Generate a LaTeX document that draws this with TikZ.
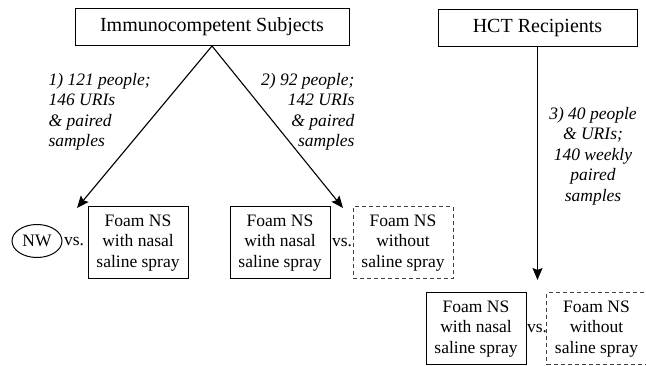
\documentclass[tikz,border=0pt]{standalone}
\usepackage{fontspec}
\setmainfont{Liberation Serif}
\usepackage{tikz}
\usetikzlibrary{shapes.geometric}
\usetikzlibrary{arrows.meta}
\tikzset{
every picture/.style={line width=1.1pt, >={Stealth[length=12pt,width=10pt,inset=2pt]},
                       x=1pt, y=-1pt, font=\fontsize{17.5}{20.5}\selectfont},
%%%%%%%%%%  Node styles
group/.style={draw, line width=1pt, minimum width=274pt, minimum height=37pt,
              inner sep=2pt, font=\fontsize{20}{24}\selectfont},
sample/.style={draw, line width=1pt, minimum width=100pt, minimum height=72pt,
               align=center, inner sep=1pt},
nospray/.style={sample, dash pattern=on 4pt off 3pt, draw=black!75},
swab/.style={ellipse, draw, line width=1pt, minimum width=50pt,
             minimum height=33pt, inner sep=0pt},
versus/.style={inner sep=0pt},
%%%% labels on the arrows
cohort/.style={font=\fontsize{17.5}{20.5}\selectfont\itshape, inner sep=0pt}
}

\begin{document}
\begin{tikzpicture}
\useasboundingbox (0,0) rectangle (646,366);
%%%%%%% top row
\node[group] (immuno) at (212,27) {Immunocompetent Subjects};
\node[group, minimum width=199pt] (hct) at (537.5,28) {HCT Recipients};
%%%%%%% comparisons
\node[swab] (nw) at (37,241) {NW};
\node[versus] (vsA) at (74,242) {vs.};
\node[sample] (sprayA) at (138,243) {Foam NS\\with nasal\\saline spray};
\node[sample] (sprayB) at (280,243) {Foam NS\\with nasal\\saline spray};
\node[versus] (vsB) at (342,243) {vs.};
\node[nospray] (plainB) at (403,243) {Foam NS\\without\\saline spray};
\node[sample] (sprayC) at (476,329) {Foam NS\\with nasal\\saline spray};
\node[versus] (vsC) at (537,329) {vs.};
\node[nospray] (plainC) at (596.5,329) {Foam NS\\without\\saline spray};
\coordinate (endA) at (77,208);
\coordinate (endB) at (343,208);
\coordinate (endC) at (537.5,280);
%%%%%%% arrows
\draw[->] (immuno.south) -- (endA);
\draw[->] (immuno.south) -- (endB);
\draw[->] (hct.south) -- (endC);
\node[cohort, anchor=west, align=left] (labA) at (48,112)
    {1) 121 people;\\146 URIs\\\& paired\\samples};
\node[cohort, anchor=east, align=right] (labB) at (355,112)
    {2) 92 people;\\142 URIs\\\& paired\\samples};
\node[cohort, align=center] (labC) at (593,156)
    {3) 40 people\\\& URIs;\\140 weekly\\paired\\samples};
\end{tikzpicture}
\end{document}
